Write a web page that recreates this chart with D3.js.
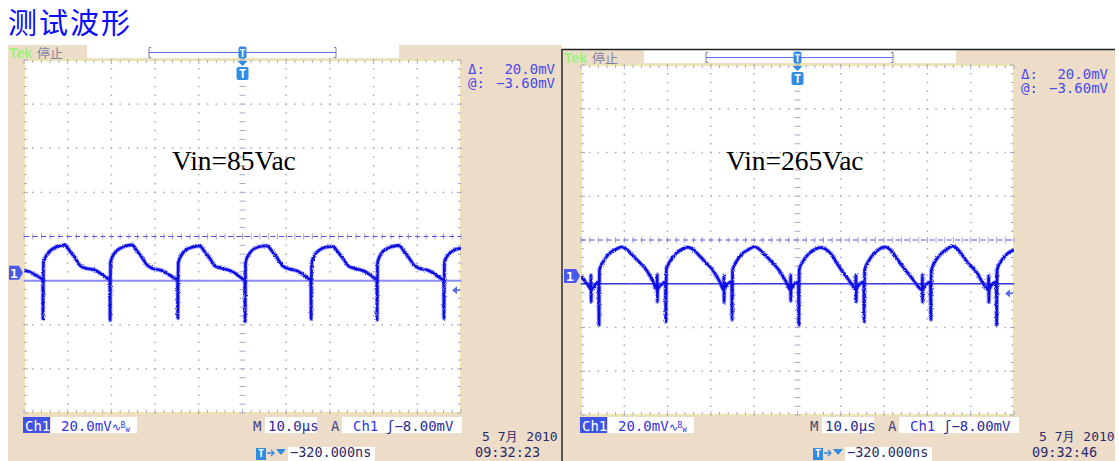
<!DOCTYPE html>
<html>
<head>
<meta charset="utf-8">
<script src="https://cdn.jsdelivr.net/npm/d3@7"></script>
<style>
  body { margin: 0; background: #fff; }
  svg { display: block; }
</style>
</head>
<body>
<script>
(function(){

  var titleText = "测试波形";
  var vinLabels = ["Vin=85Vac", "Vin=265Vac"];
  var timestamps = ["09:32:23", "09:32:46"];
  var dateText = "5 7月 2010";
  var readLabels = ["Δ:", "@:"];
  var readValues = ["20.0mV", "\u22123.60mV"];
  var cursorVals = [-3.6, 16.4];      // mV, @ and @ + Δ
  var trigLevel = -8.0;               // mV
  var chLabel = "Ch1", voltsLabel = "20.0mV", timeLabel = "10.0µs", trigLabel = "\u22128.00mV", posLabel = "\u2212320.000ns";
  var timePerDiv = 10, voltsPerDiv = 20, xDivs = 10, yDivs = 8, groundDiv = -0.82;

  // [time µs, mV]
  var trace85 = [[0,1.0],[1.0,0.6],[2.0,-0.4],[3.0,-1.5],[4.2,-3.0],
    [4.3,-3.2],[4.35,-21.0],[4.45,4.6],[5.4,8.6],[6.4,10.6],[7.5,11.7],[9.3,12.5],[10.6,9.5],[11.7,6.6],[12.9,3.1],[14.0,2.1],[16.3,1.1],[17.4,-0.2],[19.3,-2.8],
    [19.65,-3.2],[19.7,-21.5],[19.8,4.8],[20.7,8.8],[21.8,10.8],[22.9,11.8],[24.7,12.6],[25.9,9.8],[27.0,6.9],[28.2,3.4],[29.3,2.0],[31.6,0.9],[32.7,-0.3],[34.8,-2.9],
    [35.15,-3.3],[35.2,-20.6],[35.3,4.5],[36.2,8.5],[37.3,10.6],[38.4,11.5],[40.2,12.1],[41.4,9.3],[42.5,6.5],[43.7,3.0],[44.8,2.2],[47.1,1.0],[48.2,-0.1],[50.2,-3.0],
    [50.55,-3.4],[50.6,-22.0],[50.7,4.9],[51.6,8.7],[52.7,10.9],[53.8,11.8],[55.6,12.2],[56.8,9.6],[57.9,6.8],[59.1,3.2],[60.2,2.0],[62.5,0.8],[63.6,-0.4],[65.3,-2.9],
    [65.65,-3.2],[65.7,-21.0],[65.8,4.4],[66.7,8.5],[67.8,10.5],[68.9,11.5],[70.7,11.9],[71.9,9.2],[73.0,6.4],[74.2,3.1],[75.3,2.1],[77.6,0.9],[78.7,-0.2],[80.4,-2.8],
    [80.75,-3.3],[80.8,-21.3],[80.9,4.7],[81.8,8.8],[82.9,10.7],[84.0,11.7],[85.8,12.3],[87.0,9.5],[88.1,6.7],[89.3,3.3],[90.4,2.0],[92.7,0.9],[93.8,-0.3],[95.7,-2.9],
    [96.05,-3.2],[96.1,-20.7],[96.2,4.6],[97.1,8.2],[98.2,9.9],[99.3,10.8],[100,11.0]];

  var trace265 = [[0,-0.4],[1.0,-2.6],[1.9,-5.0],[2.25,-6.3],[2.3,0.4],[2.35,-11.8],[2.4,-6.4],[2.7,-6.0],[3.3,-4.0],[4.05,-2.8],
    [4.16,-22.4],[4.26,2.7],[5.1,6.4],[6.7,10.5],[8.2,12.3],[9.3,13.2],[10.4,12.4],[11.8,9.6],[13.4,6.4],[15.1,2.7],[16.7,-2.8],[17.55,-6.3],[17.6,0.6],[17.65,-11.8],[17.7,-6.4],[18.6,-3.8],[19.5,-2.8],
    [19.6,-21.0],[19.7,2.8],[20.5,6.5],[22.1,10.6],[23.6,12.4],[24.7,13.1],[25.8,12.2],[27.2,9.5],[28.8,6.2],[30.5,2.5],[32.1,-2.9],[32.95,-6.4],[33.0,0.3],[33.05,-12.0],[33.1,-6.5],[33.9,-3.6],[34.8,-2.7],
    [34.9,-20.0],[35.0,2.6],[35.8,6.3],[37.4,10.4],[38.9,12.3],[40.0,13.3],[41.1,12.3],[42.5,9.6],[44.1,6.3],[45.8,2.4],[47.4,-2.9],[48.35,-6.4],[48.4,0.5],[48.45,-11.5],[48.5,-6.3],[49.3,-3.7],[50.2,-2.8],
    [50.3,-22.4],[50.4,2.8],[51.2,6.4],[52.8,10.5],[54.3,12.4],[55.4,13.0],[56.5,12.2],[57.9,9.6],[59.8,3.6],[61.5,-1.0],[62.6,-4.0],[63.45,-6.4],[63.5,0.4],[63.55,-11.9],[63.6,-6.4],[64.4,-3.6],[65.3,-2.8],
    [65.4,-20.9],[65.5,2.7],[66.3,6.4],[67.9,10.6],[69.2,12.6],[70.2,13.2],[71.4,12.0],[72.6,9.0],[73.7,5.9],[76.4,-0.9],[78.8,-6.4],[78.85,0.5],[78.9,-11.9],[78.95,-6.5],[79.8,-3.8],[80.7,-2.8],
    [80.8,-20.0],[80.9,2.6],[81.7,6.3],[83.3,10.4],[84.8,12.6],[85.9,13.6],[87.0,12.2],[88.3,8.8],[89.4,5.9],[91.4,1.5],[92.8,-3.2],[94.1,-6.4],[94.15,0.4],[94.2,-12.0],[94.25,-6.4],[95.1,-3.6],[95.9,-2.8],
    [96.0,-22.5],[96.1,2.7],[96.9,6.4],[98.5,10.2],[100,11.8]];

  // ---- layout of the two screenshots ----
  var scopes = [
    { frame: [8, 45, 562, 461], darkTop: false, bar: [45, 59], grid: [24, 60, 461, 413],
      trace: trace85, vin: vinLabels[0], vinX: 172, time: timestamps[0],
      cursorColor: "#8c8cf4", cursorWidth: 2 },
    { frame: [563, 50, 1115, 461], darkTop: true, bar: [50, 64], grid: [581, 65, 1014, 415],
      trace: trace265, vin: vinLabels[1], vinX: 726, time: timestamps[1],
      cursorColor: "#3a3ae6", cursorWidth: 1.3 }
  ];

  var beige = "#ecdcc8", mono = "'DejaVu Sans Mono', monospace", txtBlue = "#3434e0", skyBlue = "#2f8be6";

  var svg = d3.select("body").append("svg")
      .attr("width", 1119).attr("height", 461);

  // roughens the trace edges like the scope's sampled noise
  var filt = svg.append("defs").append("filter").attr("id", "fuzz")
      .attr("x", "-2%").attr("y", "-20%").attr("width", "104%").attr("height", "140%");
  filt.append("feTurbulence").attr("type", "fractalNoise").attr("baseFrequency", "0.9")
      .attr("numOctaves", 1).attr("seed", 4).attr("result", "noise");
  filt.append("feDisplacementMap").attr("in", "SourceGraphic").attr("in2", "noise")
      .attr("scale", 3).attr("xChannelSelector", "R").attr("yChannelSelector", "G");

  svg.append("text")
      .attr("x", 8).attr("y", 34)
      .attr("font-family", "'Noto Sans CJK SC'")
      .attr("font-size", 29)
      .attr("letter-spacing", 2)
      .attr("fill", "#0a0aff")
      .text(titleText);

  scopes.forEach(function(s, idx){ drawScope(s, idx); });

  // divider between the captures
  svg.append("line").attr("x1", 562).attr("x2", 562).attr("y1", 49).attr("y2", 461)
      .attr("stroke", "#222").attr("stroke-width", 1.5);
  svg.append("line").attr("x1", 562).attr("x2", 1115).attr("y1", 49.5).attr("y2", 49.5)
      .attr("stroke", "#222").attr("stroke-width", 1.5);

  function drawScope(s, idx){
    var f = s.frame, gx0 = s.grid[0], gy0 = s.grid[1], gx1 = s.grid[2], gy1 = s.grid[3];
    var cx = (gx0 + gx1) / 2;
    var g = svg.append("g");

    g.append("clipPath").attr("id", "fclip" + idx).append("rect")
        .attr("x", f[0]).attr("y", f[1]).attr("width", f[2] - f[0]).attr("height", f[3] - f[1]);
    g.attr("clip-path", "url(#fclip" + idx + ")");

    g.append("rect").attr("x", f[0]).attr("y", f[1])
        .attr("width", f[2] - f[0]).attr("height", f[3] - f[1]).attr("fill", beige);

    // white record-view notch on the top bar
    var nx0 = gx0 + 63, nx1 = gx0 + 375;
    g.append("rect").attr("x", nx0).attr("y", f[1] - 2).attr("width", nx1 - nx0)
        .attr("height", s.bar[1] - f[1] + 1).attr("fill", "#fff");

    var barMid = (s.bar[0] + s.bar[1]) / 2 + 0.5;
    var bx0 = gx0 + 125, bx1 = gx0 + 312;
    g.append("line").attr("x1", bx0).attr("x2", bx1).attr("y1", barMid).attr("y2", barMid)
        .attr("stroke", "#5f6ee8").attr("stroke-width", 1.2);
    [[bx0, 2], [bx1, -2]].forEach(function(b){
      g.append("path")
          .attr("d", "M" + (b[0] + b[1]) + "," + (barMid - 5) + "h" + (-b[1]) + "v10h" + b[1])
          .attr("fill", "none").attr("stroke", "#7a7ab0").attr("stroke-width", 1);
    });
    g.append("rect").attr("x", cx - 4).attr("y", barMid - 6).attr("width", 8).attr("height", 12)
        .attr("rx", 2).attr("fill", skyBlue);
    g.append("text").attr("x", cx).attr("y", barMid + 4).attr("text-anchor", "middle")
        .attr("font-family", mono).attr("font-size", 10).attr("font-weight", "bold")
        .attr("fill", "#fff").text("T");

    g.append("text").attr("x", f[0] + 1).attr("y", s.bar[1] - 1.5)
        .attr("font-family", "'Liberation Sans', sans-serif").attr("font-size", 14).attr("font-weight", "bold")
        .attr("fill", "#9ef27e").text("Tek");
    g.append("text").attr("x", f[0] + 29).attr("y", s.bar[1] - 1)
        .attr("font-family", "'Noto Sans CJK SC'").attr("font-size", 13)
        .attr("fill", "#8282a4").text("停止");

    // graticule
    var x = d3.scaleLinear().domain([0, xDivs * timePerDiv]).range([gx0, gx1]);
    var yTop = (yDivs / 2 - groundDiv) * voltsPerDiv, yBot = (-yDivs / 2 - groundDiv) * voltsPerDiv;
    var y = d3.scaleLinear().domain([yBot, yTop]).range([gy1, gy0]);
    var dx = (gx1 - gx0) / xDivs, dy = (gy1 - gy0) / yDivs;

    g.append("rect").attr("x", gx0).attr("y", gy0).attr("width", gx1 - gx0).attr("height", gy1 - gy0)
        .attr("fill", "#fff").attr("stroke", "#ebe5b2").attr("stroke-width", 2);

    var dotCol = "#a9a9c2";
    var dots = [];
    d3.range(1, xDivs).forEach(function(i){
      if (i === xDivs / 2) return;
      d3.range(0, yDivs * 5 + 1).forEach(function(k){ dots.push([gx0 + i * dx, gy0 + k * dy / 5]); });
    });
    d3.range(1, yDivs).forEach(function(j){
      if (j === yDivs / 2) return;
      d3.range(0, xDivs * 5 + 1).forEach(function(k){ dots.push([gx0 + k * dx / 5, gy0 + j * dy]); });
    });
    g.append("g").selectAll("rect").data(dots).enter().append("rect")
        .attr("x", function(d){ return d[0] - 0.75; }).attr("y", function(d){ return d[1] - 0.75; })
        .attr("width", 1.5).attr("height", 1.5).attr("fill", dotCol);

    var ticks = [];
    d3.range(0, xDivs * 5 + 1).forEach(function(k){
      var xx = gx0 + k * dx / 5, len = k % 5 === 0 ? 4 : 3;
      ticks.push([xx, gy0, xx, gy0 + len], [xx, gy1 - len, xx, gy1], [xx, (gy0 + gy1) / 2 - 3, xx, (gy0 + gy1) / 2 + 3]);
    });
    d3.range(0, yDivs * 5 + 1).forEach(function(k){
      var yy = gy0 + k * dy / 5, len = k % 5 === 0 ? 4 : 3;
      ticks.push([gx0, yy, gx0 + len, yy], [gx1 - len, yy, gx1, yy], [cx - 3, yy, cx + 3, yy]);
    });
    g.append("g").selectAll("line").data(ticks).enter().append("line")
        .attr("x1", function(d){ return d[0]; }).attr("y1", function(d){ return d[1]; })
        .attr("x2", function(d){ return d[2]; }).attr("y2", function(d){ return d[3]; })
        .attr("stroke", dotCol).attr("stroke-width", 1);

    // trigger position marker
    g.append("path").attr("d", "M" + (cx - 5) + "," + (gy0 + 1) + "h10l-5,5z").attr("fill", skyBlue);
    g.append("rect").attr("x", cx - 6).attr("y", gy0 + 7).attr("width", 12).attr("height", 13)
        .attr("rx", 2).attr("fill", skyBlue);
    g.append("text").attr("x", cx).attr("y", gy0 + 18).attr("text-anchor", "middle")
        .attr("font-family", mono).attr("font-size", 12).attr("font-weight", "bold")
        .attr("fill", "#fff").text("T");

    // cursors
    g.append("line").attr("x1", gx0).attr("x2", gx1)
        .attr("y1", y(cursorVals[0])).attr("y2", y(cursorVals[0]))
        .attr("stroke", s.cursorColor).attr("stroke-width", s.cursorWidth);
    g.append("line").attr("x1", gx0).attr("x2", gx1)
        .attr("y1", y(cursorVals[1])).attr("y2", y(cursorVals[1]))
        .attr("stroke", "#5252e8").attr("stroke-width", 1.2).attr("stroke-dasharray", "5,3.5");

    // trace
    g.append("clipPath").attr("id", "gclip" + idx).append("rect")
        .attr("x", gx0).attr("y", gy0).attr("width", gx1 - gx0).attr("height", gy1 - gy0);
    var tg = g.append("g").attr("clip-path", "url(#gclip" + idx + ")")
        .append("g").attr("filter", "url(#fuzz)");
    var line = d3.line()
        .x(function(d){ return x(d[0]); })
        .y(function(d){ return y(d[1]); })
        .curve(d3.curveMonotoneX);
    tg.append("path").datum(s.trace).attr("d", line)
        .attr("fill", "none").attr("stroke", "#4a4af0").attr("stroke-opacity", 0.5)
        .attr("stroke-width", 4.4).attr("stroke-linejoin", "round");
    tg.append("path").datum(s.trace).attr("d", line)
        .attr("fill", "none").attr("stroke", "#1010e6")
        .attr("stroke-width", 2.6).attr("stroke-linejoin", "round");

    // ground marker
    var gy = y(0), mx0 = f[0] + 1, mx1 = gx0 - 1;
    g.append("path")
        .attr("d", "M" + mx0 + "," + (gy - 7) + "H" + (mx1 - 4) + "L" + mx1 + "," + gy + "L" + (mx1 - 4) + "," + (gy + 7) + "H" + mx0 + "Z")
        .attr("fill", "#4a58ea");
    g.append("text").attr("x", (mx0 + mx1 - 4) / 2).attr("y", gy + 5).attr("text-anchor", "middle")
        .attr("font-family", mono).attr("font-size", 13).attr("font-weight", "bold")
        .attr("fill", "#fff").text("1");

    // trigger level arrow
    var ty = y(trigLevel);
    g.append("path").attr("d", "M" + (gx1 - 9) + "," + ty + "l5,-4v8z").attr("fill", "#5a68f0");
    g.append("line").attr("x1", gx1 - 5).attr("x2", gx1 - 1).attr("y1", ty).attr("y2", ty)
        .attr("stroke", "#5a68f0").attr("stroke-width", 1.5);

    // readouts
    readLabels.forEach(function(l, i){
      g.append("text").attr("x", gx1 + 7).attr("y", gy0 + 14 + i * 14)
          .attr("font-family", mono).attr("font-size", 14).attr("fill", "#4a4ae8").text(l);
      g.append("text").attr("x", gx1 + 94).attr("y", gy0 + 14 + i * 14).attr("text-anchor", "end")
          .attr("font-family", mono).attr("font-size", 14).attr("fill", "#4a4ae8").text(readValues[i]);
    });

    // bottom status line
    var by = 432;
    function box(x0, x1, y0, y1, fill){
      g.append("rect").attr("x", x0).attr("y", y0).attr("width", x1 - x0).attr("height", y1 - y0).attr("fill", fill);
    }
    function label(xx, yy, t, col, size){
      return g.append("text").attr("x", xx).attr("y", yy)
          .attr("font-family", mono).attr("font-size", size || 14).attr("fill", col).text(t);
    }
    box(gx0 - 1, gx0 + 26, 417, 433, "#3f52e6");
    label(gx0 + 1, by - 1, chLabel, "#fff");
    box(gx0 + 27, gx0 + 113, 417, 433, "#fff");
    var vl = label(gx0 + 37, by - 1, voltsLabel, txtBlue);
    vl.append("tspan").attr("font-size", 11).text("∿");
    vl.append("tspan").attr("font-size", 8).attr("dy", -3).text("B");
    vl.append("tspan").attr("font-size", 7).attr("dy", 4).text("W");
    label(gx0 + 229, by - 1, "M", "#44447a");
    box(gx0 + 241, gx0 + 293, 417, 433, "#fff");
    label(gx0 + 244, by - 1, timeLabel, "#2a2a9a");
    label(gx0 + 307, by - 1, "A", "#44447a");
    box(gx0 + 318, gx0 + 438, 417, 433, "#fff");
    label(gx0 + 329, by - 1, chLabel, txtBlue);
    label(gx0 + 362, by - 1, "ʃ" + trigLabel, "#2a2a9a");

    // horizontal position
    var px = gx0 + 232, ry = 457;
    box(px, px + 10, 448, 460, skyBlue);
    g.append("text").attr("x", px + 5).attr("y", ry).attr("text-anchor", "middle")
        .attr("font-family", mono).attr("font-size", 10).attr("font-weight", "bold").attr("fill", "#fff").text("T");
    g.append("path").attr("d", "M" + (px + 11) + "," + (ry - 4) + "h6").attr("stroke", skyBlue).attr("stroke-width", 1.5);
    g.append("path").attr("d", "M" + (px + 15) + "," + (ry - 7) + "l3,3l-3,3").attr("fill", "none").attr("stroke", skyBlue).attr("stroke-width", 1.2);
    g.append("path").attr("d", "M" + (px + 20) + "," + (ry - 8) + "h10l-5,6z").attr("fill", skyBlue);
    box(gx0 + 264, gx0 + 351, 447, 461, "#fff");
    label(gx0 + 266, ry, posLabel, "#2a2a6a", 13.5);

    // date / time
    label(gx0 + 458, 441, dateText, "#2a2a6a", 13);
    label(gx0 + 451, ry, s.time, "#2a2a6a", 13.5);

    // input voltage note
    g.append("text").attr("x", s.vinX).attr("y", 170)
        .attr("font-family", "'Liberation Serif', 'Times New Roman', serif")
        .attr("font-size", 27.5).attr("fill", "#000").text(s.vin);
  }

})();
</script>
</body>
</html>
